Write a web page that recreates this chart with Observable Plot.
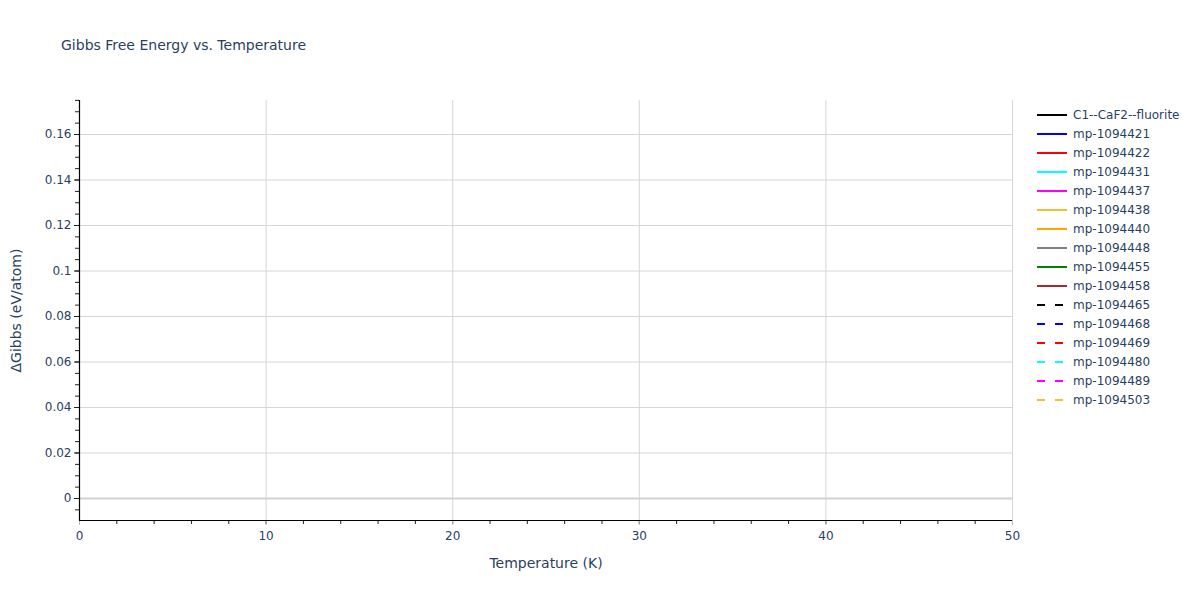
<!DOCTYPE html>
<html>
<head>
<meta charset="utf-8">
<script src="https://cdn.jsdelivr.net/npm/d3@7"></script>
<script src="https://cdn.jsdelivr.net/npm/@observablehq/plot@0.6"></script>
<style>
  html, body { margin: 0; padding: 0; background: #fff; }
  body { font-family: "DejaVu Sans", sans-serif; color: #2a3f5f; }
  #wrap { position: relative; width: 1200px; height: 600px; }
  #title { position: absolute; left: 61px; top: 37px; font-size: 14px; color: #2a3f5f; white-space: nowrap; }
  #legend { position: absolute; left: 1037px; top: 105px; font-size: 12px; }
  .item { height: 19px; display: flex; align-items: center; }
  .item svg { margin-right: 6px; }
  #chart { position: absolute; left: 0; top: 0; }
</style>
</head>
<body>
<div id="wrap">
  <div id="chart"></div>
  <div id="title">Gibbs Free Energy vs. Temperature</div>
  <div id="legend"></div>
</div>
<script>
// ---- data ----
const seriesNames = ["C1--CaF2--fluorite","mp-1094421","mp-1094422","mp-1094431","mp-1094437","mp-1094438","mp-1094440","mp-1094448","mp-1094455","mp-1094458","mp-1094465","mp-1094468","mp-1094469","mp-1094480","mp-1094489","mp-1094503"];
const seriesColors = ["#000000","#0000ff","#ff0000","#00ffff","#ff00ff","#f0c030","#ffa500","#808080","#008000","#a52a2a","#000000","#0000ff","#ff0000","#00ffff","#ff00ff","#f0c030"];
const seriesDashed = [false,false,false,false,false,false,false,false,false,false,true,true,true,true,true,true];
// no curve points are visible in the reference: every series is empty
const seriesTemps = seriesNames.map(() => []);
const seriesValues = seriesNames.map(() => []);
const xTicks = [0, 10, 20, 30, 40, 50];
const xMinorTicks = d3.range(0, 51, 2);
const yTicks = [0, 0.02, 0.04, 0.06, 0.08, 0.1, 0.12, 0.14, 0.16];
const yMinorTicks = d3.range(-0.005, 0.1751, 0.005).map(v => +v.toFixed(3));
const xDomain = [0, 50];
const yDomain = [-0.00967, 0.17495];

const rows = [];
seriesNames.forEach((name, i) => {
  seriesTemps[i].forEach((t, j) => rows.push({series: name, T: t, G: seriesValues[i][j]}));
});

const font = "#2a3f5f";
const plot = Plot.plot({
  width: 1200,
  height: 600,
  marginLeft: 79,
  marginRight: 188,
  marginTop: 100,
  marginBottom: 80,
  style: {fontFamily: "'DejaVu Sans', sans-serif", fontSize: "12px", color: font, background: "transparent"},
  x: {domain: xDomain, label: null},
  y: {domain: yDomain, label: null},
  marks: [
    Plot.gridX(xTicks.filter(d => d > 0), {stroke: "#d6d6d6", strokeOpacity: 1, strokeWidth: 1}),
    Plot.gridY(yTicks.filter(d => d !== 0), {stroke: "#d6d6d6", strokeOpacity: 1, strokeWidth: 1}),
    Plot.ruleY([0], {stroke: "#d2d2d2", strokeWidth: 2}),
    ...seriesNames.map((name, i) => Plot.line(rows.filter(r => r.series === name), {
      x: "T", y: "G", stroke: seriesColors[i], strokeWidth: 2,
      strokeDasharray: seriesDashed[i] ? "6,6" : null
    })),
    Plot.axisX(xMinorTicks, {tickSize: 4, tickFormat: () => "", stroke: "#222"}),
    Plot.axisX(xTicks, {tickSize: 5, tickPadding: 6, stroke: "#bbb", fill: font, fontSize: 12, label: null}),
    Plot.axisY(yMinorTicks, {tickSize: 4, tickFormat: () => "", stroke: "#222"}),
    Plot.axisY(yTicks, {tickSize: 5, tickPadding: 3, stroke: "#222", fill: font, fontSize: 12, label: null,
      tickFormat: d => d === 0 ? "0" : String(+d.toFixed(2))}),
    Plot.ruleX([xDomain[0]], {stroke: "#000", strokeWidth: 1.2}),
    Plot.ruleY([yDomain[0]], {stroke: "#000", strokeWidth: 1.2}),
    Plot.text(["Temperature (K)"], {frameAnchor: "bottom", dy: 47, fontSize: 14, fill: font}),
    Plot.text(["ΔGibbs (eV/atom)"], {frameAnchor: "left", textAnchor: "middle", dx: -63, rotate: -90, fontSize: 14, fill: font})
  ]
});
document.getElementById("chart").appendChild(plot);

const legend = document.getElementById("legend");
seriesNames.forEach((name, i) => {
  const item = document.createElement("div");
  item.className = "item";
  item.innerHTML = `<svg width="30" height="4"><line x1="0" y1="2" x2="30" y2="2" stroke="${seriesColors[i]}" stroke-width="2" ${seriesDashed[i] ? 'stroke-dasharray="8,10"' : ''}/></svg><span>${name}</span>`;
  legend.appendChild(item);
});
</script>
</body>
</html>
